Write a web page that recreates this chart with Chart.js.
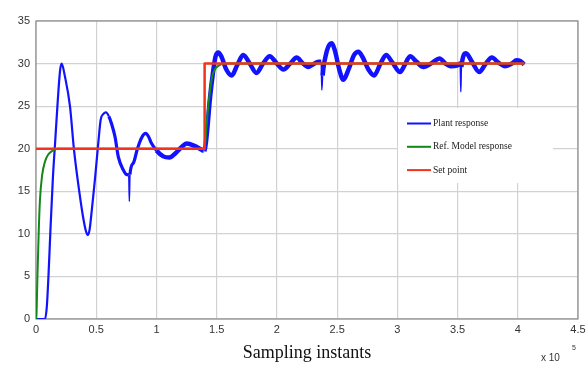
<!DOCTYPE html>
<html>
<head>
<meta charset="utf-8">
<script src="https://cdn.jsdelivr.net/npm/chart.js@4"></script>
<style>
    html, body { margin: 0; padding: 0; background: #fff; }
    canvas { display: block; }
</style>
</head>
<body>
<canvas id="main-graph" width="586" height="367"></canvas>
<script>
// graph
const MainGraphCanvas = document.getElementById("main-graph")
const MainGraphCTX = MainGraphCanvas.getContext("2d")

// data (x in units of 10^5 sampling instants)
const plantX = [0, 0.005, 0.075, 0.09, 0.105, 0.12, 0.14, 0.16, 0.18, 0.2, 0.213, 0.24, 0.282, 0.316, 0.36, 0.393, 0.415, 0.43, 0.445, 0.462, 0.49, 0.518, 0.537, 0.56, 0.581, 0.605, 0.628, 0.656, 0.684, 0.725, 0.755, 0.77, 0.775, 0.78, 0.808, 0.842, 0.877, 0.911, 0.935, 0.96, 1.0, 1.057, 1.107, 1.168, 1.21, 1.25, 1.32, 1.36, 1.39, 1.40, 1.42, 1.445, 1.47, 1.49, 1.514, 1.54, 1.58, 1.625, 1.67, 1.72, 1.775, 1.83, 1.885, 1.94, 2.0, 2.054, 2.11, 2.165, 2.21, 2.26, 2.3, 2.345, 2.368, 2.373, 2.38, 2.41, 2.44, 2.456, 2.48, 2.52, 2.55, 2.6, 2.64, 2.677, 2.71, 2.76, 2.807, 2.86, 2.907, 2.96, 3.023, 3.06, 3.106, 3.16, 3.217, 3.29, 3.35, 3.4, 3.44, 3.5, 3.522, 3.527, 3.532, 3.57, 3.62, 3.68, 3.73, 3.785, 3.84, 3.895, 3.95, 3.99, 4.02, 4.053]
const plantY = [0, 0, 0, 1.5, 5.5, 10.5, 16.5, 21, 25.5, 29.2, 30, 28.5, 25, 19.8, 14.9, 11.8, 10.3, 9.86, 10.5, 12.6, 16.5, 20.8, 23.4, 24.1, 24.26, 23.8, 22.9, 21.4, 19.0, 17.5, 16.95, 16.9, 13.8, 16.95, 18.3, 20, 21.3, 21.8, 21.4, 20.6, 19.8, 19.1, 18.97, 19.6, 20.2, 20.6, 20.3, 20.0, 19.76, 19.8, 22, 26, 29, 30.8, 31.3, 30.8, 29.3, 28.6, 29.8, 31.0, 30.0, 28.9, 30, 30.87, 30.0, 29.3, 30, 30.7, 30.1, 29.6, 29.9, 30.2, 30.2, 26.9, 28.6, 31.2, 32.3, 32.4, 31.6, 29.2, 28.1, 29.5, 31, 31.4, 30.8, 29.3, 28.6, 30, 31.0, 30.1, 29.0, 29.8, 30.87, 30.2, 29.6, 30.1, 30.6, 30.0, 29.7, 29.8, 30, 26.7, 29.6, 31.2, 30.2, 29.0, 29.9, 30.7, 30.1, 29.7, 30.0, 30.4, 30.3, 29.9]

const refX = [0, 0.004, 0.012, 0.022, 0.033, 0.05, 0.075, 0.1, 0.14, 0.18, 1.40, 1.415, 1.43, 1.445, 1.46, 1.48, 1.51, 1.57, 4.055]
const refY = [0, 0.5, 5, 10, 14, 16.8, 18.5, 19.3, 19.8, 20, 20, 22.5, 25, 26.8, 28.3, 29.2, 29.7, 30, 30]

const setX = [0, 1.40, 1.40, 4.055]
const setY = [20, 20, 30, 30]

// tick labels
const xTicks = [0, 0.5, 1, 1.5, 2, 2.5, 3, 3.5, 4, 4.5]
const yTicks = [0, 5, 10, 15, 20, 25, 30, 35]

const seriesLabels = ["Plant response", "Ref. Model response", "Set point"]
const seriesColors = ["rgb(18, 18, 255)", "rgb(20, 135, 25)", "rgb(240, 52, 30)"]

const toPoints = (xs, ys) => xs.map((x, i) => ({ x: x, y: ys[i] }))

// frame, legend box and exponent label
const extrasPlugin = {
    id: "extras",
    beforeDatasetsDraw(chart) {
        const ctx = chart.ctx
        const a = chart.chartArea
        ctx.save()
        ctx.strokeStyle = "#8c8c8c"
        ctx.lineWidth = 1.2
        ctx.strokeRect(a.left, a.top, a.right - a.left, a.bottom - a.top)
        // legend background hides grid
        ctx.fillStyle = "#fff"
        ctx.fillRect(398, 108, 155, 75)
        ctx.restore()
    },
    afterDraw(chart) {
        const ctx = chart.ctx
        ctx.save()
        ctx.font = "9.5px 'Liberation Serif'"
        ctx.textBaseline = "middle"
        ctx.fillStyle = "#222"
        seriesLabels.forEach((label, i) => {
            const y = 123.5 + i * 23.3
            ctx.strokeStyle = seriesColors[i]
            ctx.lineWidth = 2
            ctx.beginPath()
            ctx.moveTo(407, y)
            ctx.lineTo(431, y)
            ctx.stroke()
            ctx.fillText(label, 433, y)
        })
        ctx.fillStyle = "#333"
        ctx.font = "10px 'Liberation Sans'"
        ctx.fillText("x 10", 541, 358)
        ctx.font = "7px 'Liberation Sans'"
        ctx.fillText("5", 572, 348)
        ctx.restore()
    }
}

const MainGraph = new Chart(MainGraphCTX, {
    type: "line",
    data: {
        datasets: [
            {
                label: seriesLabels[0],
                data: toPoints(plantX, plantY),
                borderColor: seriesColors[0],
                cubicInterpolationMode: "monotone",
                order: 3,
                segment: {
                    // noisy band gets thicker after the first oscillations, spikes stay thin
                    borderWidth: c => {
                        const x0 = c.p0.parsed.x
                        if (c.p1.parsed.x - x0 < 0.012) return 1.5
                        if (x0 < 0.6) return 2.2
                        if (x0 < 1.0) return 3.2
                        return 4.5
                    }
                }
            },
            {
                label: seriesLabels[1],
                data: toPoints(refX, refY),
                borderColor: seriesColors[1],
                borderWidth: 2,
                cubicInterpolationMode: "monotone",
                order: 2
            },
            {
                label: seriesLabels[2],
                data: toPoints(setX, setY),
                borderColor: seriesColors[2],
                borderWidth: 2.5,
                order: 1
            }
        ]
    },
    options: {
        responsive: false,
        animation: false,
        devicePixelRatio: 1,
        layout: { padding: { left: 0, right: 8, top: 21, bottom: 0 } },
        elements: {
            point: { radius: 0 },
            line: { tension: 0, borderJoinStyle: "round" }
        },
        plugins: {
            legend: { display: false },
            tooltip: { enabled: false }
        },
        scales: {
            x: {
                type: "linear",
                min: 0,
                max: 4.5,
                afterBuildTicks: s => { s.ticks = xTicks.map(v => ({ value: v })) },
                afterFit: s => {
                    s.height = 48
                    s.paddingRight = 0
                    s.paddingLeft = 0
                },
                ticks: {
                    padding: 4,
                    maxRotation: 0,
                    autoSkip: false,
                    color: "#333",
                    font: { family: "'Liberation Sans'", size: 11 },
                    callback: v => String(v)
                },
                grid: { color: "#d2d2d2", lineWidth: 1.2, drawTicks: false },
                border: { display: false },
                title: {
                    display: true,
                    text: "Sampling instants",
                    color: "#111",
                    font: { family: "'Liberation Serif'", size: 18 },
                    padding: { top: 0, bottom: 3 }
                }
            },
            y: {
                type: "linear",
                min: 0,
                max: 35,
                afterBuildTicks: s => { s.ticks = yTicks.map(v => ({ value: v })) },
                afterFit: s => { s.width = 36 },
                ticks: {
                    padding: 6,
                    color: "#333",
                    font: { family: "'Liberation Sans'", size: 11 },
                    callback: v => String(v)
                },
                grid: { color: "#d2d2d2", lineWidth: 1.2, drawTicks: false },
                border: { display: false }
            }
        }
    },
    plugins: [extrasPlugin]
})
</script>
</body>
</html>
